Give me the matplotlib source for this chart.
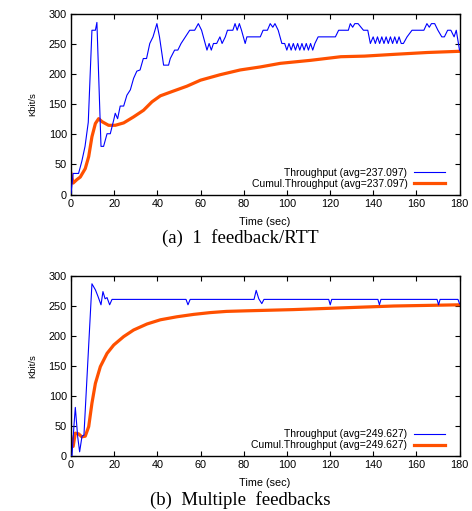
import matplotlib
matplotlib.use("Agg")
import matplotlib.pyplot as plt

# ---------------- data: (a) 1 feedback/RTT ----------------
a_tp_t = [0, 1, 3.5, 5, 6.5, 8, 9.7, 11.3, 12, 13.9, 15.1, 16.7, 18.2, 19.8, 20.5,
          21.6, 22.8, 24.4, 25.9, 27.5, 29, 30.5, 32, 33.5, 35, 36.5, 38, 39.8,
          41, 42.9, 45.2, 46, 48, 49.5, 51, 53, 55, 57.3, 59, 60.5, 63, 64, 65, 66,
          67.5, 69, 70, 71.5, 72.5, 75, 76, 77, 78, 79, 80.7, 81.5, 87.7, 89, 91,
          92.3, 93.5, 94.5, 96, 97.7, 99, 100, 101, 102, 103, 104, 105, 106, 107,
          108, 109, 110, 111, 112, 113, 114.5, 118.6, 122.5, 124, 128.5, 129.4,
          130.5, 131.5, 133, 135.5, 137.5, 138.7, 140, 141, 142, 143, 144, 145,
          146, 147, 148, 149, 150, 151, 152, 153, 154, 155.7, 158, 163.5, 164.9,
          166, 167, 168.5, 170, 171.8, 173, 174.5, 176, 177.5, 178.5, 180]
a_tp_v = [2, 35, 35, 55, 80, 120, 273, 273, 286, 80, 80, 101, 101, 124, 135,
          126, 147, 147, 165, 174, 193, 205, 207, 226, 226, 251, 262, 284,
          262, 215, 215, 226, 240, 240, 251, 262, 273, 273, 284, 273, 240, 251, 240, 251,
          251, 262, 251, 262, 273, 273, 284, 273, 284, 273, 251, 262, 262, 273, 273,
          284, 278, 284, 273, 251, 251, 240, 251, 240, 251, 240, 251, 240, 251,
          240, 251, 240, 251, 240, 251, 262, 262, 262, 273, 273, 284,
          278, 284, 284, 273, 273, 251, 262, 251, 262, 251, 262, 251,
          262, 251, 262, 251, 262, 251, 262, 251, 251, 262, 273, 273, 284,
          278, 284, 284, 273, 262, 262, 273, 273, 262, 273, 240]

a_cu_t = [0, 1, 2.8, 4.3, 6.6, 8.2, 9.7, 11.3, 12.8, 14.4, 17.4, 20.5, 24.4, 29,
          33.6, 37.5, 41.4, 47.5, 53.7, 60, 69, 78.4, 87.7, 97, 111, 125, 136,
          150, 165, 180]
a_cu_v = [35, 19, 25, 29, 43, 63, 96, 118, 126, 121, 115, 115, 119, 129,
          140, 154, 164, 172, 180, 190, 199, 207, 212, 218, 223, 229, 230,
          233, 236, 238]

# ---------------- data: (b) Multiple feedbacks ----------------
b_tp_t = [0, 0.45, 1.4, 2, 3.1, 4, 5.1, 6, 9.7, 11.3, 12.5, 13.9, 14.8, 15.8,
          16.7, 17.9, 19, 53.3, 54.2, 55.2, 84.8, 85.8, 87, 88.4, 89.4,
          119.4, 120.1, 120.8, 142.2, 142.9, 143.6, 169.6, 170.3, 171, 179.3, 180]
b_tp_v = [0, 0, 52, 81, 32, 7, 33, 35, 287, 277, 266, 252, 274, 262,
          264, 252, 261, 261, 252, 261, 261, 276, 262, 254, 261,
          261, 252, 261, 261, 252, 261, 261, 252, 261, 261, 254]

b_cu_t = [0, 1, 2, 3.5, 5, 6.6, 8.2, 9.7, 11.3, 13.6, 16.7, 19.8, 24.4, 29,
          35.2, 41.4, 49, 56.8, 64.5, 72, 81.5, 92.3, 103, 118.6, 134, 149.6,
          165, 180]
b_cu_v = [32, 16, 38, 37, 32, 33, 49, 88, 121, 149, 171, 185, 199, 210,
          220, 227, 232, 236, 239, 241, 242, 243, 244, 246, 248, 250,
          251, 252]

x_ticks = [0, 20, 40, 60, 80, 100, 120, 140, 160, 180]
y_ticks = [0, 50, 100, 150, 200, 250, 300]

panels = [
    dict(tp=(a_tp_t, a_tp_v), cu=(a_cu_t, a_cu_v), avg="237.097",
         caption="(a)  1  feedback/RTT"),
    dict(tp=(b_tp_t, b_tp_v), cu=(b_cu_t, b_cu_v), avg="249.627",
         caption="(b)  Multiple  feedbacks"),
]

BLUE = "#0000ff"
ORANGE = "#ff5000"
SANS = ["Liberation Sans", "DejaVu Sans"]
SERIF = ["Liberation Serif", "DejaVu Serif"]

W, H = 472, 511
fig = plt.figure(figsize=(W / 100, H / 100), dpi=100)

# axes boxes in pixels: left, right, top, bottom
boxes = [(71, 459.5, 14, 194.5), (71, 459.5, 276, 456)]
xlabel_y = [222, 483]
caption_y = [238, 500]

for p, (l, r, t, b), xly, cy in zip(panels, boxes, xlabel_y, caption_y):
    ax = fig.add_axes([l / W, 1 - b / H, (r - l) / W, (b - t) / H])
    ax.plot(*p["cu"], color=ORANGE, lw=2.3, zorder=2,
            label=f"Cumul.Throughput (avg={p['avg']})")
    ax.plot(*p["tp"], color=BLUE, lw=0.8, zorder=3,
            label=f"Throughput (avg={p['avg']})")
    ax.set_xlim(0, 180)
    ax.set_ylim(0, 300)
    ax.set_xticks(x_ticks)
    ax.set_yticks(y_ticks)
    ax.tick_params(direction="in", top=True, right=True, length=3.5,
                   width=0.8, labelsize=7.8, pad=3)
    for lab in ax.get_xticklabels() + ax.get_yticklabels():
        lab.set_family(SANS)
    for s in ax.spines.values():
        s.set_linewidth(1.0)
    ax.set_ylabel("Kbit/s", fontsize=6.8, family=SANS, labelpad=8)
    h, lb = ax.get_legend_handles_labels()
    leg = ax.legend(h[::-1], lb[::-1], loc="lower right", frameon=False,
                    markerfirst=False, prop=dict(family=SANS, size=7.5),
                    handlelength=3.0, handletextpad=0.6, borderpad=0.2,
                    labelspacing=0.1, borderaxespad=0.0,
                    bbox_to_anchor=(0.968, 0.02))
    fig.text(265 / W, 1 - xly / H, "Time (sec)", ha="center", va="center",
             fontsize=7.8, family=SANS)
    fig.text(240 / W, 1 - cy / H, p["caption"], ha="center", va="center",
             fontsize=13.5, family=SERIF)

fig.savefig("out.png", dpi=100)
